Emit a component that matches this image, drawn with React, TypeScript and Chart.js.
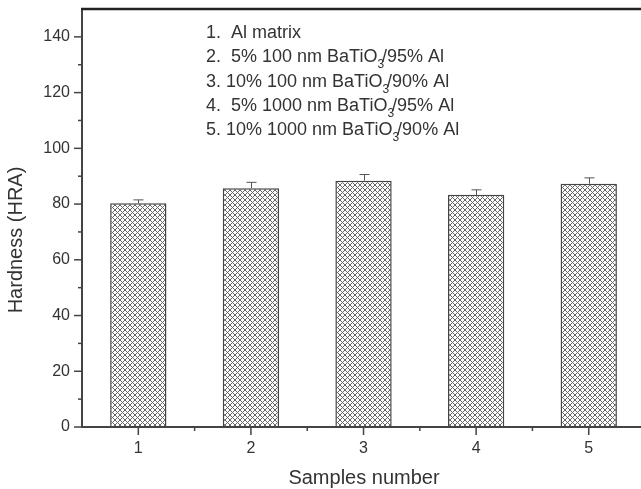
import React, { useEffect, useRef } from "react";
import { Chart, registerables } from "chart.js";

Chart.register(...registerables);

const samples = [1, 2, 3, 4, 5];
const hardness = [80.3, 85.7, 88.4, 83.3, 87.3];
const errors = [1.2, 2.1, 2.2, 1.8, 2.1];
const yTickValues = [0, 10, 20, 30, 40, 50, 60, 70, 80, 90, 100, 110, 120, 130, 140];
const xMinorTicks = [1.5, 2.5, 3.5, 4.5];
const legendLines: { pre: string; sub?: string; post?: string }[] = [
  { pre: "1.  Al matrix" },
  { pre: "2.  5% 100 nm BaTiO", sub: "3", post: "/95% Al" },
  { pre: "3. 10% 100 nm BaTiO", sub: "3", post: "/90% Al" },
  { pre: "4.  5% 1000 nm BaTiO", sub: "3", post: "/95% Al" },
  { pre: "5. 10% 1000 nm BaTiO", sub: "3", post: "/90% Al" },
];
const xTitle = "Samples number";
const yTitle = "Hardness (HRA)";

const FONT = "'Liberation Sans', Arial, sans-serif";
const TEXT = "#333333";

function makePattern(): CanvasPattern | string {
  const s = 5;
  const c = document.createElement("canvas");
  c.width = s;
  c.height = s;
  const ctx = c.getContext("2d");
  if (!ctx) return "#aaa";
  ctx.fillStyle = "#ffffff";
  ctx.fillRect(0, 0, s, s);
  ctx.strokeStyle = "#666666";
  ctx.lineWidth = 1;
  for (const off of [-s, 0, s]) {
    ctx.beginPath();
    ctx.moveTo(off - 1, -1);
    ctx.lineTo(off + s + 1, s + 1);
    ctx.stroke();
    ctx.beginPath();
    ctx.moveTo(off + s + 1, -1);
    ctx.lineTo(off - 1, s + 1);
    ctx.stroke();
  }
  return ctx.createPattern(c, "repeat") || "#aaa";
}

const decorPlugin = {
  id: "decor",
  afterDatasetsDraw(chart: any) {
    const ctx = chart.ctx as CanvasRenderingContext2D;
    const x = chart.scales.x;
    const y = chart.scales.y;
    const area = chart.chartArea;
    ctx.save();
    // error bars
    ctx.strokeStyle = "#555";
    ctx.lineWidth = 1;
    samples.forEach((s, i) => {
      const px = Math.round(x.getPixelForValue(s)) + 0.5;
      const top = y.getPixelForValue(hardness[i] + errors[i]);
      const bot = y.getPixelForValue(hardness[i]);
      ctx.beginPath();
      ctx.moveTo(px, bot);
      ctx.lineTo(px, top);
      ctx.moveTo(px - 5, top);
      ctx.lineTo(px + 5, top);
      ctx.stroke();
    });
    // axes
    ctx.strokeStyle = "#444";
    ctx.lineWidth = 2;
    ctx.beginPath();
    ctx.moveTo(area.left, area.top);
    ctx.lineTo(area.left, area.bottom);
    ctx.lineTo(area.right, area.bottom);
    ctx.stroke();
    ctx.strokeStyle = "#222";
    ctx.lineWidth = 2.5;
    ctx.beginPath();
    ctx.moveTo(area.left - 1, area.top);
    ctx.lineTo(area.right, area.top);
    ctx.stroke();
    // ticks
    ctx.strokeStyle = "#444";
    ctx.lineWidth = 1.5;
    yTickValues.forEach((v) => {
      const py = y.getPixelForValue(v);
      const len = v % 20 === 0 ? 8 : 4;
      ctx.beginPath();
      ctx.moveTo(area.left, py);
      ctx.lineTo(area.left - len, py);
      ctx.stroke();
    });
    samples.forEach((v) => {
      const px = x.getPixelForValue(v);
      ctx.beginPath();
      ctx.moveTo(px, area.bottom);
      ctx.lineTo(px, area.bottom + 8);
      ctx.stroke();
    });
    xMinorTicks.forEach((v) => {
      const px = x.getPixelForValue(v);
      ctx.beginPath();
      ctx.moveTo(px, area.bottom);
      ctx.lineTo(px, area.bottom + 4);
      ctx.stroke();
    });
    // titles
    ctx.fillStyle = TEXT;
    ctx.font = `20px ${FONT}`;
    ctx.textAlign = "center";
    ctx.textBaseline = "middle";
    ctx.fillText(xTitle, 364, 478);
    ctx.save();
    ctx.translate(16, 240);
    ctx.rotate(-Math.PI / 2);
    ctx.fillText(yTitle, 0, 0);
    ctx.restore();
    // legend text
    ctx.textAlign = "left";
    ctx.textBaseline = "middle";
    const lineYs = [33, 57, 82, 106, 130];
    legendLines.forEach((ln, i) => {
      let cx = 206;
      const cy = lineYs[i];
      ctx.font = `18px ${FONT}`;
      ctx.fillText(ln.pre, cx, cy);
      cx += ctx.measureText(ln.pre).width;
      if (ln.sub) {
        ctx.font = `12px ${FONT}`;
        ctx.fillText(ln.sub, cx, cy + 8);
        cx += ctx.measureText(ln.sub).width - 2;
      }
      if (ln.post) {
        ctx.font = `18px ${FONT}`;
        ctx.fillText(ln.post, cx, cy);
      }
    });
    ctx.restore();
  },
};

export default function App() {
  const ref = useRef<HTMLCanvasElement | null>(null);
  useEffect(() => {
    if (!ref.current) return;
    document.body.style.margin = "0";
    const chart = new Chart(ref.current, {
      type: "bar",
      data: {
        datasets: [
          {
            data: samples.map((s, i) => ({ x: s, y: hardness[i] })),
            backgroundColor: makePattern() as any,
            borderColor: "#444",
            borderWidth: 1.5,
            borderSkipped: "bottom",
            barPercentage: 0.5,
            categoryPercentage: 1,
          },
        ],
      },
      options: {
        responsive: false,
        animation: false,
        events: [],
        layout: { padding: { top: 9, left: 0, right: 0, bottom: 0 } },
        plugins: { legend: { display: false }, tooltip: { enabled: false } },
        scales: {
          x: {
            type: "linear",
            offset: false,
            min: 0.5,
            max: 5.464,
            grid: { display: false, drawTicks: false, offset: false },
            border: { display: false },
            afterBuildTicks: (scale: any) => {
              scale.ticks = samples.map((v) => ({ value: v }));
            },
            afterFit: (scale: any) => {
              scale.height = 62;
              scale.paddingLeft = 0;
              scale.paddingRight = 0;
            },
            ticks: {
              padding: 12,
              color: TEXT,
              font: { size: 16, family: FONT },
              maxRotation: 0,
              callback: (v: any) => String(v),
            },
          },
          y: {
            type: "linear",
            min: 0,
            max: 150,
            grid: { display: false, drawTicks: false },
            border: { display: false },
            afterFit: (scale: any) => {
              scale.width = 82;
              scale.paddingTop = 0;
              scale.paddingBottom = 0;
            },
            ticks: {
              stepSize: 10,
              padding: 12,
              color: TEXT,
              font: { size: 16, family: FONT },
              callback: (v: any) => (Number(v) % 20 === 0 && Number(v) <= 140 ? String(v) : ""),
            },
          },
        },
      },
      plugins: [decorPlugin],
    });
    return () => chart.destroy();
  }, []);
  return (
    <div style={{ position: "fixed", left: 0, top: 0, width: 641, height: 489, background: "#fff" }}>
      <canvas ref={ref} width={641} height={489} />
    </div>
  );
}
